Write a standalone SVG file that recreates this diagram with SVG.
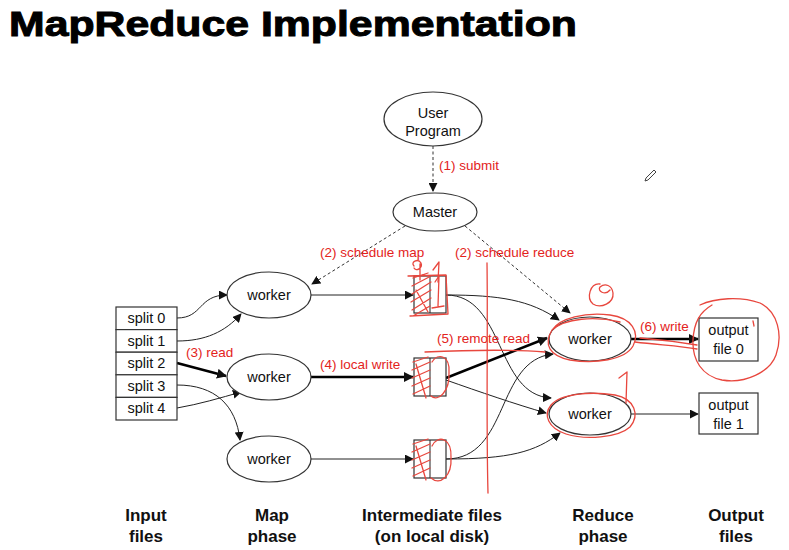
<svg xmlns="http://www.w3.org/2000/svg" width="789" height="550" viewBox="0 0 789 550">
<defs>
<style>
.t{font-family:"Liberation Sans",Arial,sans-serif;font-size:14.5px;fill:#111;text-anchor:middle}
.r{font-family:"Liberation Sans",Arial,sans-serif;font-size:13.5px;fill:#e3231c}
.b{font-family:"Liberation Sans",Arial,sans-serif;font-size:17px;font-weight:bold;fill:#111;text-anchor:middle}
.n{fill:#fff;stroke:#333;stroke-width:1.2}
.c{fill:none;stroke:#222;stroke-width:1}
.k{fill:none;stroke:#000;stroke-width:2.5}
.d{fill:none;stroke:#333;stroke-width:1;stroke-dasharray:3 2.5}
.a{fill:none;stroke:#e8473e;stroke-width:1.3;stroke-linecap:round;stroke-linejoin:round}
</style>
<marker id="ar" viewBox="0 0 10 10" refX="9" refY="5" markerWidth="9" markerHeight="9" markerUnits="userSpaceOnUse" orient="auto"><path d="M0,0 L10,5 L0,10 z" fill="#111"/></marker>
<marker id="ak" viewBox="0 0 10 10" refX="9" refY="5" markerWidth="10" markerHeight="10" markerUnits="userSpaceOnUse" orient="auto"><path d="M0,0 L10,5 L0,10 z" fill="#111"/></marker>
</defs>
<rect width="789" height="550" fill="#fff"/>
<text x="9" y="36" font-family="'Liberation Sans',Arial,sans-serif" font-size="35" font-weight="bold" fill="#000" stroke="#000" stroke-width="1" textLength="568" lengthAdjust="spacingAndGlyphs">MapReduce Implementation</text>

<g id="connectors">
<path class="d" d="M433,146 L433,191" marker-end="url(#ar)"/>
<path class="d" d="M405,226 L312,284" marker-end="url(#ar)"/>
<path class="d" d="M465,226 L570,313" marker-end="url(#ar)"/>
<path class="c" d="M177,318 C203,318 198,295 227,295" marker-end="url(#ar)"/>
<path class="c" d="M177,341 C205,341 225,332 241,314" marker-end="url(#ar)"/>
<path class="k" d="M177,363 L226,376" marker-end="url(#ak)"/>
<path class="c" d="M177,385 C215,385 236,405 240,440" marker-end="url(#ar)"/>
<path class="c" d="M177,408 C200,404 220,398 241,392" marker-end="url(#ar)"/>
<path class="c" d="M311,295 L413,295" marker-end="url(#ar)"/>
<path class="k" d="M311,377 L413,377" marker-end="url(#ak)"/>
<path class="c" d="M311,459 L413,459" marker-end="url(#ar)"/>
<path class="c" d="M446,295 C500,295 530,300 559,320" marker-end="url(#ar)"/>
<path class="c" d="M446,295 C505,295 495,395 551,398" marker-end="url(#ar)"/>
<path class="k" d="M446,378 L547,338" marker-end="url(#ak)"/>
<path class="c" d="M446,380 C480,392 515,404 546,413" marker-end="url(#ar)"/>
<path class="c" d="M446,459 C510,459 495,360 553,354" marker-end="url(#ar)"/>
<path class="c" d="M446,459 C510,459 535,452 560,433" marker-end="url(#ar)"/>
<path class="k" d="M631,339 L698,339" marker-end="url(#ak)"/>
<path class="c" d="M631,414 L698,414" marker-end="url(#ar)"/>
</g>

<g id="user-program"><ellipse class="n" cx="433" cy="119" rx="49" ry="27"/><text class="t" x="433" y="118">User</text><text class="t" x="433" y="136">Program</text></g>
<g id="master"><ellipse class="n" cx="435" cy="212" rx="42" ry="19"/><text class="t" x="435" y="217">Master</text></g>

<g id="splits">
<rect class="n" x="116" y="307" width="61" height="22.6"/><text class="t" x="146.5" y="323">split 0</text>
<rect class="n" x="116" y="329.6" width="61" height="22.6"/><text class="t" x="146.5" y="346">split 1</text>
<rect class="n" x="116" y="352.2" width="61" height="22.6"/><text class="t" x="146.5" y="368">split 2</text>
<rect class="n" x="116" y="374.8" width="61" height="22.6"/><text class="t" x="146.5" y="391">split 3</text>
<rect class="n" x="116" y="397.4" width="61" height="22.6"/><text class="t" x="146.5" y="413">split 4</text>
</g>

<g id="map-worker-1"><ellipse class="n" cx="269" cy="295" rx="42" ry="23"/><text class="t" x="269" y="300">worker</text></g>
<g id="map-worker-2"><ellipse class="n" cx="269" cy="377" rx="42" ry="23"/><text class="t" x="269" y="382">worker</text></g>
<g id="map-worker-3"><ellipse class="n" cx="269" cy="459" rx="42" ry="23"/><text class="t" x="269" y="464">worker</text></g>

<g id="file-1"><rect class="n" x="414" y="276" width="32" height="37"/><line class="c" x1="430" y1="276" x2="430" y2="313"/></g>
<g id="file-2"><rect class="n" x="414" y="358" width="32" height="38"/><line class="c" x1="430" y1="358" x2="430" y2="396"/></g>
<g id="file-3"><rect class="n" x="414" y="440" width="32" height="38"/><line class="c" x1="430" y1="440" x2="430" y2="478"/></g>

<g id="reduce-worker-0"><ellipse class="n" cx="590" cy="339" rx="41" ry="22"/><text class="t" x="590" y="344">worker</text></g>
<g id="reduce-worker-1"><ellipse class="n" cx="590" cy="414" rx="41" ry="21"/><text class="t" x="590" y="419">worker</text></g>

<g id="output-0"><rect class="n" x="699" y="318" width="59" height="43"/><text class="t" x="728.5" y="335">output</text><text class="t" x="728.5" y="354">file 0</text></g>
<g id="output-1"><rect class="n" x="699" y="393" width="59" height="41"/><text class="t" x="728.5" y="410">output</text><text class="t" x="728.5" y="429">file 1</text></g>

<g id="labels">
<text class="r" x="439" y="170">(1) submit</text>
<text class="r" x="320" y="257">(2) schedule map</text>
<text class="r" x="455" y="257">(2) schedule reduce</text>
<text class="r" x="186" y="357">(3) read</text>
<text class="r" x="320" y="369">(4) local write</text>
<text class="r" x="437" y="343">(5) remote read</text>
<text class="r" x="640" y="331">(6) write</text>
</g>

<g id="phases">
<text class="b" x="146" y="521">Input</text><text class="b" x="146" y="542">files</text>
<text class="b" x="272" y="521">Map</text><text class="b" x="272" y="542">phase</text>
<text class="b" x="432" y="521">Intermediate files</text><text class="b" x="432" y="542">(on local disk)</text>
<text class="b" x="603" y="521">Reduce</text><text class="b" x="603" y="542">phase</text>
<text class="b" x="736" y="521">Output</text><text class="b" x="736" y="542">files</text>
</g>

<g id="annotations">
<path class="a" d="M487,263 C488,330 486,420 488,493"/>
<path class="a" d="M414,266 C410,262 418,258 421,263 C423,268 416,272 414,268 M420,264 L420,280 M433,270 L439,262 L438,282"/>
<path class="a" d="M413,278 L428,273 M412,286 L431,276 M412,294 L431,282 M411,302 L431,290 M412,310 L431,298 M413,316 L430,306 M416,290 L428,312 M435,282 L439,276 L438,306 M432,308 L444,306 M408,276 L446,275 L448,314 L410,316"/>
<path class="a" d="M413,362 L428,357 M412,370 L430,362 M412,378 L430,370 M412,386 L430,378 M413,394 L430,386 M416,364 L426,398"/>
<path class="a" d="M432,362 C438,352 450,356 449,372 C450,392 438,402 431,396"/>
<path class="a" d="M413,444 L428,439 M412,452 L430,444 M412,460 L430,452 M412,468 L430,460 M413,476 L430,468 M416,446 L426,480"/>
<path class="a" d="M432,446 C438,434 452,438 451,458 C452,476 440,486 431,478"/>
<path class="a" d="M425,352 C470,350 510,349 545,352"/>
<path class="a" d="M552,330 C560,318 585,312 610,315 C632,318 640,332 633,346 C625,360 595,364 570,360 C550,356 543,345 552,330 C565,318 595,316 620,322"/>
<path class="a" d="M600,284 C590,283 586,298 593,304 C601,309 614,303 613,293 C612,285 605,283 600,287 C597,291 605,296 610,290"/>
<path class="a" d="M551,405 C560,394 590,391 615,395 C635,399 640,415 630,427 C618,438 585,440 566,434 C548,428 543,415 551,405"/>
<path class="a" d="M619,378 L627,372 L626,403"/>
<path class="a" d="M635,342 C660,345 680,346 697,349 M640,338 C665,340 685,343 697,345"/>
<path class="a" d="M700,305 C715,298 740,296 760,303 C778,312 783,335 776,355 C770,372 745,384 722,380 C702,376 692,360 693,340 C694,322 700,312 712,305"/>
<path class="a" d="M753,321 L754,326"/>
</g>
<g id="cursor"><path d="M646,178 L654,170 L656,172 L648,180 L645,181 Z" fill="#fff" stroke="#444" stroke-width="1"/></g>
</svg>
